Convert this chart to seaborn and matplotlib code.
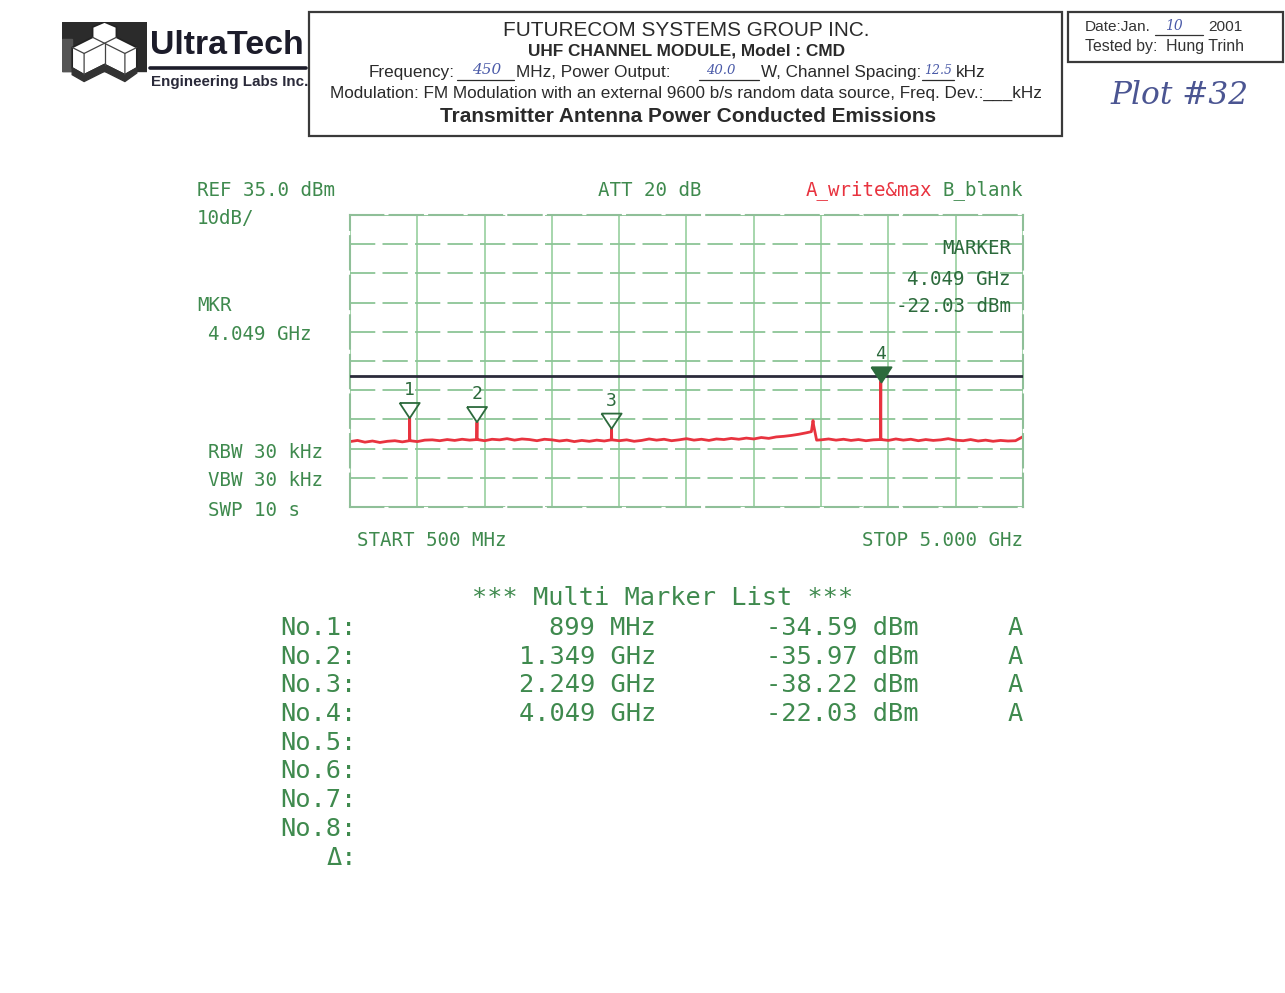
import numpy as np
import pandas as pd
import matplotlib
matplotlib.use("Agg")
import matplotlib.pyplot as plt
import matplotlib.patches as mpatches
from matplotlib.markers import MarkerStyle
import seaborn as sns

# ---------------- data ----------------
start_mhz = 500
stop_mhz = 5000
ref_dbm = 35.0
db_per_div = 10
limit_dbm = -20.0

# noise floor of trace A, sampled every 50 MHz from 500 to 5000 MHz
noise_mhz = np.arange(500, 5001, 50)
noise_dbm = [
    -42.6, -42.2, -42.8, -42.4, -42.9, -42.5, -42.3, -42.7, -42.3, -42.6,
    -42.1, -42.0, -42.3, -41.9, -42.2, -41.8, -42.1, -41.9, -42.3, -41.8,
    -42.0, -41.6, -42.1, -41.7, -41.9, -42.3, -41.8, -42.0, -42.4, -42.1,
    -42.6, -42.2, -42.5, -42.1, -42.4, -41.9, -42.3, -42.0, -42.5, -42.2,
    -41.7, -42.1, -41.8, -42.3, -42.0, -41.6, -42.1, -41.8, -42.2, -41.7,
    -41.9, -41.5, -41.8, -41.4, -41.7, -41.2, -41.5, -41.0, -40.8, -40.5,
    -40.1, -39.6, -37.0, -42.0, -41.7, -42.1, -41.8, -42.2, -41.9, -42.3,
    -42.0, -41.8, -42.2, -41.7, -42.1, -41.8, -42.3, -41.9, -42.2, -42.0,
    -41.6, -42.1, -42.3, -41.9, -42.4, -42.1, -42.5, -42.2, -42.4, -42.3,
    -40.9,
]
# spur bump near 3.6 GHz
bump_mhz = [3585, 3596, 3620]
bump_dbm = [-39.2, -35.4, -42.1]

# multi marker list
marker_no = [1, 2, 3, 4]
marker_mhz = [899, 1349, 2249, 4049]
marker_dbm = [-34.59, -35.97, -38.22, -22.03]
marker_base_dbm = [-42.3, -41.9, -42.0, -41.9]
marker_freq_labels = ["899 MHz", "1.349 GHz", "2.249 GHz", "4.049 GHz"]
marker_level_labels = ["-34.59 dBm", "-35.97 dBm", "-38.22 dBm", "-22.03 dBm"]
list_rows = ["No.1:", "No.2:", "No.3:", "No.4:", "No.5:", "No.6:", "No.7:", "No.8:", "\u0394:"]

# ---------------- build trace ----------------
tr_f = list(noise_mhz) + bump_mhz
tr_l = list(noise_dbm) + bump_dbm
for mf, md, mb in zip(marker_mhz, marker_dbm, marker_base_dbm):
    tr_f += [mf - 2, mf, mf + 2]
    tr_l += [mb, md, mb]
trace = pd.DataFrame({"MHz": tr_f, "dBm": tr_l}).sort_values("MHz")

# ---------------- figure ----------------
sns.set_style("white")
W, H = 1285, 993
fig = plt.figure(figsize=(W / 100, H / 100), dpi=100)
fig.patch.set_facecolor("white")
renderer = fig.canvas.get_renderer()

GREEN = "#3f8a4e"
DKGREEN = "#2c6a3c"
GRIDG = "#9fd3a6"
RED = "#e8333f"
INK = "#4a5aa8"
PRINT = "#2a2a2a"
MONO = ["DejaVu Sans Mono"]
SANS = ["Liberation Sans", "DejaVu Sans"]
HAND = ["DejaVu Serif"]


def fx(x):
    return x / W


def fy(y):
    return 1 - y / H


def put(x, y, s, size=12, ha="left", x1=None, **kw):
    t = fig.text(fx(x), fy(y), s, ha=ha, va="center", fontsize=size, **kw)
    if x1 is not None:
        bb = t.get_window_extent(renderer=renderer)
        t.set_fontsize(size * abs(x1 - x) / bb.width)
    return t


def hline(x0, x1, y, color, lw):
    fig.add_artist(plt.Line2D([fx(x0), fx(x1)], [fy(y), fy(y)], color=color, lw=lw,
                              transform=fig.transFigure))


# ---------------- header ----------------
fig.add_artist(mpatches.Rectangle((fx(309), fy(136)), fx(1062) - fx(309), fy(12) - fy(136),
                                  fill=False, ec="#3a3a3a", lw=1.6, transform=fig.transFigure))
fig.add_artist(mpatches.Rectangle((fx(1068), fy(62)), fx(1283) - fx(1068), fy(12) - fy(62),
                                  fill=False, ec="#3a3a3a", lw=1.6, transform=fig.transFigure))

put(503, 30, "FUTURECOM SYSTEMS GROUP INC.", x1=868, family=SANS, color=PRINT)
put(528, 51, "UHF CHANNEL MODULE, Model : CMD", x1=845, family=SANS, weight="bold", color=PRINT)
mod = put(330, 93, "Modulation: FM Modulation with an external 9600 b/s random data source, Freq. Dev.:___kHz",
          x1=1042, family=SANS, color=PRINT)
FS = mod.get_fontsize()

put(369, 72, "Frequency:", size=FS, family=SANS, color=PRINT)
hline(457, 514, 80, PRINT, 0.9)
put(472, 70, "450", size=11, family=HAND, style="italic", color=INK)
put(516, 72, "MHz, Power Output:", size=FS, family=SANS, color=PRINT)
hline(699, 759, 80, PRINT, 0.9)
put(706, 71, "40.0", size=9.5, family=HAND, style="italic", color=INK)
wcs = put(761, 72, "W, Channel Spacing:", size=FS, family=SANS, color=PRINT)
wend = 761 + wcs.get_window_extent(renderer=renderer).width
hline(wend + 1, wend + 33, 80, PRINT, 0.9)
put(wend + 3, 71, "12.5", size=9, family=HAND, style="italic", color=INK)
put(wend + 35, 72, "kHz", size=FS, family=SANS, color=PRINT)

put(440, 116, "Transmitter Antenna Power Conducted Emissions", x1=932, family=SANS,
    weight="bold", color=PRINT)

dj = put(1085, 27, "Date:Jan.", size=FS * 0.9, family=SANS, color="#333333")
dend = 1085 + dj.get_window_extent(renderer=renderer).width
hline(dend + 4, dend + 52, 35, "#333333", 0.9)
put(dend + 14, 26, "10", size=10, family=HAND, style="italic", color=INK)
put(1208, 27, "2001", size=FS * 0.9, family=SANS, color="#333333")
put(1085, 46, "Tested by:  Hung Trinh", x1=1244, family=SANS, color="#333333")
put(1110, 95, "Plot #32", x1=1248, family=HAND, style="italic", color="#4b5592")

# logo
lax = fig.add_axes([fx(62), fy(90), fx(147) - fx(62), fy(22) - fy(90)])
lax.set_xlim(0, 10)
lax.set_ylim(0, 8)
lax.axis("off")
lax.add_patch(mpatches.Rectangle((0, 2.2), 10, 5.8, color="#2b2b2b"))
lax.add_patch(mpatches.Polygon([(0, 2.2), (1.2, 2.2), (1.2, 6.0), (0, 6.0)], color="#555555"))
shape = [(1.2, 5.0), (3.6, 6.2), (3.6, 7.4), (5.0, 8.0), (6.4, 7.4), (6.4, 6.2), (8.8, 5.0),
         (8.8, 2.6), (7.4, 1.8), (5.0, 3.0), (2.6, 1.8), (1.2, 2.6)]
lax.add_patch(mpatches.Polygon(shape, fc="white", ec="#222222", lw=1.2))
for seg in [[(3.6, 6.2), (5.0, 5.5), (6.4, 6.2)], [(5.0, 5.5), (5.0, 3.0)],
            [(1.2, 5.0), (2.6, 4.3), (2.6, 1.8)], [(8.8, 5.0), (7.4, 4.3), (7.4, 1.8)],
            [(2.6, 4.3), (5.0, 5.5), (7.4, 4.3)]]:
    xs, ys = zip(*seg)
    lax.plot(xs, ys, color="#444444", lw=0.9)
lax.add_patch(mpatches.Polygon([(1.2, 2.6), (2.6, 1.8), (5.0, 3.0), (7.4, 1.8), (8.8, 2.6),
                                (8.8, 2.0), (7.4, 1.0), (5.0, 2.2), (2.6, 1.0), (1.2, 1.8)],
                               color="#333333"))
put(150, 45, "UltraTech", x1=303, family=["Liberation Sans Narrow", "Liberation Sans"],
    weight="bold", color="#1c1c2a")
hline(150, 306, 68, "#1c1c2a", 2.6)
put(151, 82, "Engineering Labs Inc.", x1=308, family=["Liberation Sans Narrow", "Liberation Sans"],
    weight="bold", color="#2a2a3a")

# ---------------- analyzer screen ----------------
ax = fig.add_axes([fx(350), fy(507), fx(1023) - fx(350), fy(215) - fy(507)])
sns.lineplot(data=trace, x="MHz", y="dBm", ax=ax, color=RED, lw=2.0, sort=False,
             estimator=None)
ax.set_xlim(start_mhz, stop_mhz)
ax.set_ylim(ref_dbm - 10 * db_per_div, ref_dbm)
ax.set_xticks(np.linspace(start_mhz, stop_mhz, 11))
ax.set_yticks(np.arange(ref_dbm - 10 * db_per_div, ref_dbm + 1, db_per_div))
ax.set_xticklabels([])
ax.set_yticklabels([])
ax.set_xlabel("")
ax.set_ylabel("")
ax.tick_params(length=0)
ax.xaxis.grid(True, color=GRIDG, lw=1.3, ls="-")
ax.yaxis.grid(True, color="#8cc596", lw=1.3, ls=(0, (14, 4)))
ax.set_axisbelow(True)
for sp in ax.spines.values():
    sp.set_color("#8fbf98")
    sp.set_linewidth(1.5)
    sp.set_linestyle((0, (16, 3)))
ax.axhline(limit_dbm, color="#2b2b3b", lw=2.0, zorder=3)

tri = MarkerStyle([(-0.66, 1.0), (0.66, 1.0), (0.0, 0.0), (-0.66, 1.0)])
for n, mf, md in zip(marker_no, marker_mhz, marker_dbm):
    filled = n == 4
    ax.scatter([mf], [md], marker=tri, s=480, zorder=5, linewidths=1.3,
               facecolors=DKGREEN if filled else "none", edgecolors=DKGREEN)
    ax.annotate(str(n), (mf, md), xytext=(0, 20), textcoords="offset points", ha="center",
                va="center", fontsize=13, family=MONO, color=DKGREEN, zorder=6)

ax.text(0.982, 0.885, "MARKER", transform=ax.transAxes, ha="right", va="center",
        fontsize=13.8, family=MONO, color=DKGREEN)
ax.text(0.982, 0.78, "4.049 GHz", transform=ax.transAxes, ha="right", va="center",
        fontsize=13.8, family=MONO, color=DKGREEN)
ax.text(0.982, 0.685, "-22.03 dBm", transform=ax.transAxes, ha="right", va="center",
        fontsize=13.8, family=MONO, color=DKGREEN)

AS = 13.8
put(197, 190, "REF 35.0 dBm", size=AS, family=MONO, color=GREEN)
put(197, 218, "10dB/", size=AS, family=MONO, color=GREEN)
put(598, 190, "ATT 20 dB", size=AS, family=MONO, color=GREEN)
put(806, 190, "A_write&max", size=AS, family=MONO, color=RED)
put(1023, 190, "B_blank", size=AS, ha="right", family=MONO, color=GREEN)
put(197, 305, "MKR", size=AS, family=MONO, color=GREEN)
put(208, 335, "4.049 GHz", size=AS, family=MONO, color=GREEN)
put(208, 452, "RBW 30 kHz", size=AS, family=MONO, color=GREEN)
put(208, 481, "VBW 30 kHz", size=AS, family=MONO, color=GREEN)
put(208, 510, "SWP 10 s", size=AS, family=MONO, color=GREEN)
put(357, 540, "START 500 MHz", size=AS, family=MONO, color=GREEN)
put(1023, 540, "STOP 5.000 GHz", size=AS, ha="right", family=MONO, color=GREEN)

# ---------------- marker list ----------------
LS = 18.3
put(472, 598, "*** Multi Marker List ***", size=LS, family=MONO, color=GREEN)
row_y0, row_dy = 628, 28.7
for i, lab in enumerate(list_rows):
    put(357, row_y0 + i * row_dy, lab, size=LS, ha="right", family=MONO, color=GREEN)
for i, (fl, ll) in enumerate(zip(marker_freq_labels, marker_level_labels)):
    y = row_y0 + i * row_dy
    put(656, y, fl, size=LS, ha="right", family=MONO, color=GREEN)
    put(918, y, ll, size=LS, ha="right", family=MONO, color=GREEN)
    put(1015, y, "A", size=LS, ha="center", family=MONO, color=GREEN)

fig.savefig("out.png", dpi=100, facecolor="white")
